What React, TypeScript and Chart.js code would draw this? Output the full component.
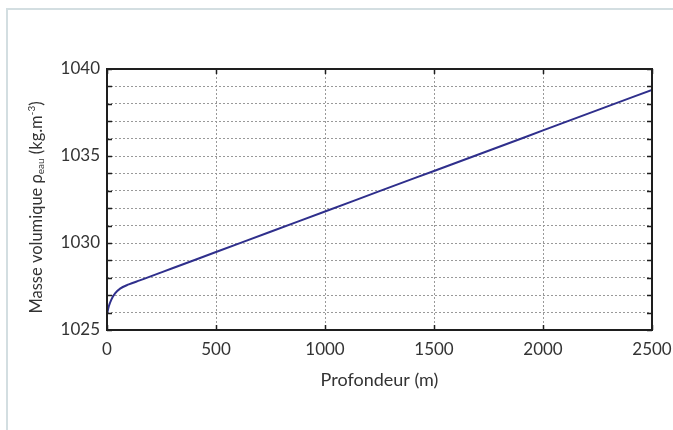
import React, { useEffect, useRef } from "react";
import { Chart, registerables } from "chart.js";

Chart.register(...registerables);

const depths = [0, 8, 20, 37, 60, 100, 150, 200, 300, 500, 750, 1000, 1250, 1500, 1750, 2000, 2250, 2500];
const densities = [1025.9, 1026.35, 1026.75, 1027.1, 1027.38, 1027.62, 1027.85, 1028.08, 1028.55, 1029.48, 1030.65, 1031.81, 1032.98, 1034.14, 1035.3, 1036.47, 1037.64, 1038.8];
const xTicks = [0, 500, 1000, 1500, 2000, 2500];
const yLabelTicks = [1025, 1030, 1035, 1040];
const xTitle = "Profondeur (m)";
const yTitleMain = "Masse volumique ρ";
const yTitleSub = "eau";
const yTitleUnit = " (kg.m";
const yTitleSup = "-3";
const yTitleEnd = ")";

const FONT = "Lato, 'Open Sans', sans-serif";

const framePlugin = {
  id: "framePlugin",
  afterDraw(chart: any) {
    const { ctx, chartArea } = chart;
    const { left, right, top, bottom } = chartArea;
    const xs = chart.scales.x;
    const ys = chart.scales.y;
    ctx.save();
    ctx.strokeStyle = "#1e1e1e";
    ctx.lineWidth = 1.5;
    for (let v = 1025; v <= 1040; v += 1) {
      const py = Math.round(ys.getPixelForValue(v)) + 0.5;
      ctx.beginPath();
      ctx.moveTo(left, py);
      ctx.lineTo(left + 5, py);
      ctx.moveTo(right, py);
      ctx.lineTo(right - 5, py);
      ctx.stroke();
    }
    for (const v of xTicks) {
      const px = Math.round(xs.getPixelForValue(v)) + 0.5;
      ctx.beginPath();
      ctx.moveTo(px, top);
      ctx.lineTo(px, top + 5);
      ctx.moveTo(px, bottom);
      ctx.lineTo(px, bottom - 5);
      ctx.stroke();
    }
    ctx.lineWidth = 2;
    ctx.strokeRect(left, top, right - left, bottom - top);

    const cy = (top + bottom) / 2 + 8;
    const cx = 37;
    ctx.translate(cx, cy);
    ctx.rotate(-Math.PI / 2);
    ctx.fillStyle = "#333";
    ctx.textBaseline = "middle";
    ctx.textAlign = "left";
    const big = `16.5px ${FONT}`;
    const small = `10px ${FONT}`;
    const parts: [string, string, number][] = [
      [yTitleMain, big, 0],
      [yTitleSub, small, 4],
      [yTitleUnit, big, 0],
      [yTitleSup, small, -5],
      [yTitleEnd, big, 0],
    ];
    let total = 0;
    for (const [t, f] of parts) {
      ctx.font = f;
      total += ctx.measureText(t).width;
    }
    let x = -total / 2;
    for (const [t, f, dy] of parts) {
      ctx.font = f;
      ctx.fillText(t, x, dy);
      x += ctx.measureText(t).width;
    }
    ctx.restore();
  },
};

export default function App() {
  const ref = useRef<HTMLCanvasElement | null>(null);
  useEffect(() => {
    if (!ref.current) return;
    const chart = new Chart(ref.current, {
      type: "line",
      data: {
        datasets: [
          {
            data: depths.map((d, i) => ({ x: d, y: densities[i] })),
            borderColor: "#2f2f8c",
            borderWidth: 2,
            pointRadius: 0,
            cubicInterpolationMode: "monotone",
            fill: false,
          },
        ],
      },
      options: {
        animation: false,
        responsive: false,
        maintainAspectRatio: false,
        layout: { padding: { top: 69, right: 21, left: 0, bottom: 0 } },
        plugins: { legend: { display: false }, tooltip: { enabled: false } },
        scales: {
          x: {
            type: "linear",
            min: 0,
            max: 2500,
            afterBuildTicks: (scale: any) => {
              scale.ticks = xTicks.map((v) => ({ value: v }));
            },
            afterFit: (scale: any) => {
              scale.height = 100;
              scale.paddingLeft = 0;
              scale.paddingRight = 0;
            },
            ticks: {
              padding: 9,
              color: "#333",
              font: { family: FONT, size: 17 },
              maxRotation: 0,
              autoSkip: false,
              callback: (v: any) => String(v),
            },
            grid: { color: "#999", lineWidth: 1, drawTicks: false },
            border: { display: false, dash: [2, 2] },
            title: {
              display: true,
              text: xTitle,
              color: "#333",
              font: { family: FONT, size: 18 },
              padding: { top: 0, bottom: 39 },
            },
          },
          y: {
            type: "linear",
            min: 1025,
            max: 1040,
            afterFit: (scale: any) => {
              scale.width = 107;
              scale.paddingTop = 0;
              scale.paddingBottom = 0;
            },
            ticks: {
              stepSize: 1,
              padding: 7,
              autoSkip: false,
              color: "#333",
              font: { family: FONT, size: 17 },
              callback: (v: any) => (yLabelTicks.includes(Number(v)) ? String(v) : ""),
            },
            grid: { color: "#999", lineWidth: 1, drawTicks: false },
            border: { display: false, dash: [2, 2] },
          },
        },
      },
      plugins: [framePlugin],
    } as any);
    return () => chart.destroy();
  }, []);
  return (
    <div style={{ position: "absolute", left: 0, top: 0, width: 673, height: 430, background: "#fff", overflow: "hidden" }}>
      <div
        style={{
          position: "absolute",
          left: 6,
          top: 8,
          width: 700,
          height: 460,
          borderTop: "2px solid #d3dee1",
          borderLeft: "2px solid #d3dee1",
        }}
      />
      <canvas ref={ref} width={673} height={430} style={{ position: "absolute", left: 0, top: 0 }} />
    </div>
  );
}
